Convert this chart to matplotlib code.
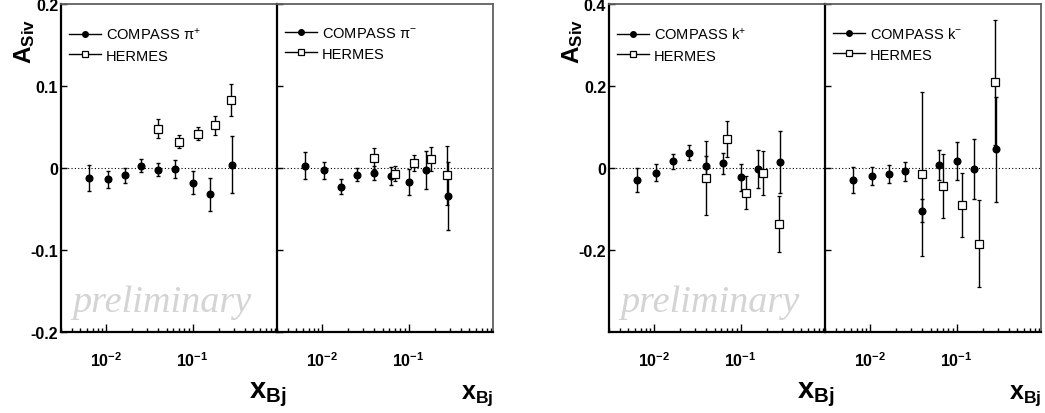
import matplotlib
matplotlib.use("Agg")
import matplotlib.pyplot as plt
from matplotlib.lines import Line2D
from matplotlib.ticker import FixedLocator, LogLocator, NullLocator, NullFormatter

plt.rcParams["font.family"] = ["Liberation Sans", "DejaVu Sans"]
plt.rcParams["mathtext.default"] = "regular"

# x bins
x_compass = [0.0064, 0.0105, 0.0164, 0.0254, 0.040, 0.063, 0.101, 0.161, 0.290]
x_hermes = [0.040, 0.069, 0.117, 0.181, 0.280]

# pi+
pip_c = [-0.012, -0.014, -0.009, 0.003, -0.002, -0.001, -0.018, -0.032, 0.004]
pip_c_err = [0.016, 0.010, 0.009, 0.008, 0.008, 0.011, 0.014, 0.020, 0.035]
pip_h = [0.048, 0.032, 0.042, 0.052, 0.083]
pip_h_err = [0.012, 0.008, 0.008, 0.012, 0.019]

# pi-
pim_c = [0.003, -0.003, -0.023, -0.008, -0.006, -0.010, -0.017, -0.002, -0.034]
pim_c_err = [0.016, 0.010, 0.009, 0.008, 0.009, 0.011, 0.016, 0.023, 0.041]
pim_h = [0.012, -0.007, 0.006, 0.011, -0.009]
pim_h_err = [0.013, 0.009, 0.010, 0.015, 0.036]

# k+
kp_c = [-0.029, -0.011, 0.016, 0.037, 0.006, 0.011, -0.023, -0.002, 0.015]
kp_c_err = [0.030, 0.020, 0.019, 0.018, 0.023, 0.026, 0.033, 0.047, 0.076]
kp_h = [-0.024, 0.071, -0.060, -0.012, -0.137]
kp_h_err = [0.090, 0.044, 0.041, 0.053, 0.068]

# k-
km_c = [-0.029, -0.019, -0.015, -0.008, -0.104, 0.007, 0.017, -0.002, 0.046]
km_c_err = [0.032, 0.022, 0.022, 0.023, 0.028, 0.037, 0.046, 0.073, 0.128]
km_h = [-0.015, -0.044, -0.090, -0.185, 0.209]
km_h_err = [0.200, 0.077, 0.079, 0.106, 0.153]

W, H = 1045, 414
fig = plt.figure(figsize=(W / 100, H / 100), dpi=100)


def make_axes(x0, x1, y0=5, y1=333):
    return fig.add_axes([x0 / W, 1 - y1 / H, (x1 - x0) / W, (y1 - y0) / H])


def panel(ax, comp, comp_err, herm, herm_err, label, ylim, yticks, show_ylab, xbj_size):
    ax.set_xscale("log")
    ax.set_xlim(0.003, 0.95)
    ax.set_ylim(*ylim)
    ax.axhline(0, color="black", ls=(0, (1, 2)), lw=0.8, zorder=1)
    ax.errorbar(x_compass, comp, yerr=comp_err, fmt="o", ms=4.8, color="black",
                ecolor="black", elinewidth=1, capsize=1.5, capthick=1, zorder=3)
    ax.errorbar(x_hermes, herm, yerr=herm_err, fmt="s", ms=5.2, mfc="white", mec="black",
                mew=0.9, ecolor="black", elinewidth=1, capsize=1.5, capthick=1, zorder=4)

    ax.xaxis.set_major_locator(FixedLocator([1e-2, 1e-1]))
    ax.set_xticklabels(["10$^{-2}$", "10$^{-1}$"])
    ax.xaxis.set_minor_locator(LogLocator(base=10, subs=range(2, 10)))
    ax.xaxis.set_minor_formatter(NullFormatter())
    ax.set_yticks(yticks)
    ax.yaxis.set_minor_locator(NullLocator())
    if show_ylab:
        ax.set_yticklabels([("%g" % v) for v in yticks])
    else:
        ax.set_yticklabels([])
    ax.tick_params(which="both", direction="in", top=False, right=False)
    ax.tick_params(axis="x", which="major", length=6, width=1, pad=13)
    ax.tick_params(axis="x", which="minor", length=3, width=1)
    ax.tick_params(axis="y", which="major", length=4.5, width=1, pad=2)
    for t in ax.get_xticklabels() + ax.get_yticklabels():
        t.set_fontweight("bold")
        t.set_fontsize(11.5)

    for s in ["left", "bottom"]:
        ax.spines[s].set_color("black")
        ax.spines[s].set_linewidth(1.6)
    for s in ["top", "right"]:
        ax.spines[s].set_color("#606060")
        ax.spines[s].set_linewidth(1.3)

    handles = [
        Line2D([], [], color="black", lw=1, marker="o", ms=4),
        Line2D([], [], color="black", lw=1, marker="s", ms=4.2, mfc="white", mew=0.9),
    ]
    ax.legend(handles, [label, "HERMES"], loc="upper left", bbox_to_anchor=(0.025, 0.942),
              frameon=False, fontsize=10.5, handlelength=2.2, handletextpad=0.3,
              labelspacing=0.45, borderpad=0.2, borderaxespad=0)

    ax.text(1.0, -0.2, "x$_{Bj}$", transform=ax.transAxes, ha="right", va="baseline",
            fontsize=xbj_size, fontweight="bold")


ax1 = make_axes(61, 277)
ax2 = make_axes(277, 493)
ax3 = make_axes(609, 825)
ax4 = make_axes(825, 1041)

yt_pi = [-0.2, -0.1, 0, 0.1, 0.2]
yt_k = [-0.2, 0, 0.2, 0.4]

panel(ax1, pip_c, pip_c_err, pip_h, pip_h_err, "COMPASS $\\pi^{+}$", (-0.2, 0.2), yt_pi, True, 21)
panel(ax2, pim_c, pim_c_err, pim_h, pim_h_err, "COMPASS $\\pi^{-}$", (-0.2, 0.2), yt_pi, False, 18)
panel(ax3, kp_c, kp_c_err, kp_h, kp_h_err, "COMPASS k$^{+}$", (-0.4, 0.4), yt_k, True, 21)
panel(ax4, km_c, km_c_err, km_h, km_h_err, "COMPASS k$^{-}$", (-0.4, 0.4), yt_k, False, 18)

# x_Bj of left panels sticks out a bit past the divider
for ax in (ax1, ax3):
    ax.texts[-1].set_x(1.046)

for ax in (ax1, ax3):
    ax.text(0.051, 0.065, "preliminary", transform=ax.transAxes, ha="left", va="baseline",
            family="Liberation Serif", style="italic", fontsize=27.5, color="#d4d4d4", zorder=0)

fig.text(25 / W, 1 - 19 / H, "A$_{Siv}$", rotation=90, ha="center", va="top",
         fontsize=17.5, fontweight="bold")
fig.text(573 / W, 1 - 19 / H, "A$_{Siv}$", rotation=90, ha="center", va="top",
         fontsize=17.5, fontweight="bold")

ax2.set_zorder(2)
ax4.set_zorder(2)
ax2.patch.set_alpha(0)
ax4.patch.set_alpha(0)

fig.savefig("out.png", dpi=100)
